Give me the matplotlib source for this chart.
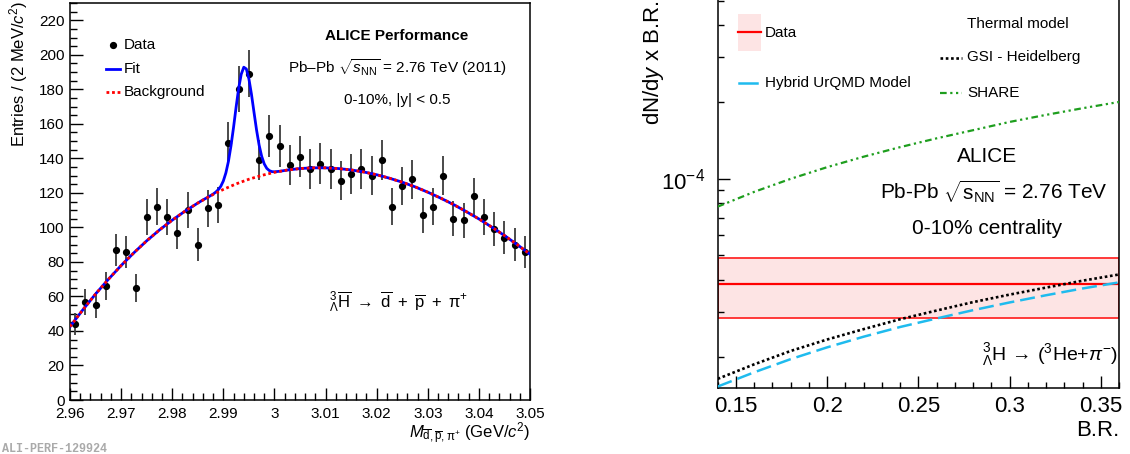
import numpy as np
import matplotlib
matplotlib.use('Agg')
import matplotlib.pyplot as plt
from matplotlib.patches import Rectangle
from matplotlib.lines import Line2D
from matplotlib.ticker import MultipleLocator, LogLocator, NullFormatter, LogFormatterMathtext, FuncFormatter

plt.rcParams['font.family'] = ['Liberation Sans', 'DejaVu Sans']
plt.rcParams['mathtext.fontset'] = 'custom'
plt.rcParams['mathtext.rm'] = 'Liberation Sans'
plt.rcParams['mathtext.it'] = 'Liberation Sans:italic'
plt.rcParams['mathtext.bf'] = 'Liberation Sans:bold'
plt.rcParams['axes.linewidth'] = 1.1

# ---------------- data: left panel (invariant mass) ----------------
mass = [2.961, 2.963, 2.965, 2.967, 2.969, 2.971, 2.973, 2.975, 2.977, 2.979,
        2.981, 2.983, 2.985, 2.987, 2.989, 2.991, 2.993, 2.995, 2.997, 2.999,
        3.001, 3.003, 3.005, 3.007, 3.009, 3.011, 3.013, 3.015, 3.017, 3.019,
        3.021, 3.023, 3.025, 3.027, 3.029, 3.031, 3.033, 3.035, 3.037, 3.039,
        3.041, 3.043, 3.045, 3.047, 3.049]
counts = [44, 57, 55, 66, 87, 86, 65, 106, 112, 106,
          97, 110, 90, 111, 113, 149, 180, 189, 139, 153,
          147, 136, 141, 134, 137, 134, 127, 131, 134, 130,
          139, 112, 124, 128, 107, 112, 130, 105, 104, 118,
          106, 99, 94, 90, 86]
count_err = [6.6, 7.5, 7.4, 8.1, 9.3, 9.3, 8.1, 10.3, 10.6, 10.3,
             9.8, 10.5, 9.5, 10.5, 10.6, 12.2, 13.4, 13.7, 11.8, 12.4,
             12.1, 11.7, 11.9, 11.6, 11.7, 11.6, 11.3, 11.4, 11.6, 11.4,
             11.8, 10.6, 11.1, 11.3, 10.3, 10.6, 11.4, 10.2, 10.2, 10.9,
             10.3, 9.9, 9.7, 9.5, 9.3]

bkg_x = [2.9600, 2.9625, 2.9650, 2.9675, 2.9700, 2.9725, 2.9750, 2.9775, 2.9800,
         2.9825, 2.9850, 2.9875, 2.9900, 2.9925, 2.9950, 2.9975, 3.0000, 3.0025,
         3.0050, 3.0075, 3.0100, 3.0125, 3.0150, 3.0175, 3.0200, 3.0225, 3.0250,
         3.0275, 3.0300, 3.0325, 3.0350, 3.0375, 3.0400, 3.0425, 3.0450, 3.0475,
         3.0500]
bkg_y = [42.5, 52.2, 61.4, 69.9, 77.9, 85.3, 92.2, 98.5, 104.2,
         109.4, 114.1, 118.3, 122.0, 125.2, 127.9, 130.1, 131.9, 133.2,
         134.1, 134.5, 134.5, 134.1, 133.3, 132.1, 130.5, 128.5, 126.2,
         123.5, 120.4, 117.0, 113.3, 109.2, 104.9, 100.2, 95.3, 90.0,
         84.5]

fit_x = [2.9600, 2.9625, 2.9650, 2.9675, 2.9700, 2.9725, 2.9750, 2.9775, 2.9800,
         2.9825, 2.9850, 2.9860, 2.9870, 2.9880, 2.9885, 2.9890, 2.9895, 2.9900,
         2.9905, 2.9910, 2.9915, 2.9920, 2.9925, 2.9930, 2.9935, 2.9940, 2.9945,
         2.9950, 2.9955, 2.9960, 2.9965, 2.9970, 2.9975, 2.9980, 2.9985, 2.9990,
         2.9995, 3.0000, 3.0010, 3.0025, 3.0050, 3.0075, 3.0100, 3.0125, 3.0150,
         3.0175, 3.0200, 3.0225, 3.0250, 3.0275, 3.0300, 3.0325, 3.0350, 3.0375,
         3.0400, 3.0425, 3.0450, 3.0475, 3.0500]
fit_y = [42.5, 52.2, 61.4, 69.9, 77.9, 85.3, 92.2, 98.5, 104.2,
         109.4, 114.1, 115.9, 117.5, 119.3, 120.4, 121.8, 123.8, 126.9,
         131.6, 138.3, 147.3, 158.0, 169.7, 180.6, 188.7, 192.8, 191.8,
         186.1, 177.2, 166.7, 156.4, 147.7, 141.2, 136.8, 134.2, 132.9,
         132.3, 132.2, 132.5, 133.2, 134.1, 134.5, 134.5, 134.1, 133.3,
         132.1, 130.5, 128.5, 126.2, 123.5, 120.4, 117.0, 113.3, 109.2,
         104.9, 100.2, 95.3, 90.0, 84.5]

# ---------------- data: right panel (yield x B.R.) ----------------
br = [0.14, 0.16, 0.18, 0.20, 0.22, 0.24, 0.26, 0.28, 0.30, 0.32, 0.34, 0.36]
gsi = [1.64e-5, 1.87e-5, 2.11e-5, 2.34e-5, 2.57e-5, 2.81e-5,
       3.04e-5, 3.28e-5, 3.51e-5, 3.74e-5, 3.98e-5, 4.21e-5]
urqmd = [1.53e-5, 1.74e-5, 1.96e-5, 2.18e-5, 2.40e-5, 2.62e-5,
         2.83e-5, 3.05e-5, 3.27e-5, 3.49e-5, 3.71e-5, 3.92e-5]
share = [7.77e-5, 8.88e-5, 9.99e-5, 11.1e-5, 12.2e-5, 13.3e-5,
         14.4e-5, 15.5e-5, 16.7e-5, 17.8e-5, 18.9e-5, 20.0e-5]
data_central = 3.86e-5
data_low = 2.83e-5
data_high = 4.89e-5

W, H = 1130, 454
fig = plt.figure(figsize=(W / 100, H / 100), dpi=100)


def P(x, y):
    return (x / W, 1 - y / H)


# ================= left panel =================
ax1 = fig.add_axes([70 / W, (H - 400) / H, 460 / W, 397 / H])
ax1.errorbar(mass, counts, yerr=count_err, fmt='o', color='black', ms=4.2,
             ecolor='#3c3c3c', elinewidth=1.3, capsize=0, zorder=2)
ax1.plot(fit_x, fit_y, color='#0000ff', lw=2.0, zorder=3)
ax1.plot(bkg_x, bkg_y, color='#ff0000', lw=2.0, ls=(0, (1, 1)), zorder=4)
ax1.set_xlim(2.96, 3.05)
ax1.set_ylim(0, 230)
ax1.xaxis.set_major_locator(MultipleLocator(0.01))
ax1.xaxis.set_minor_locator(MultipleLocator(0.002))
ax1.yaxis.set_major_locator(MultipleLocator(20))
ax1.yaxis.set_minor_locator(MultipleLocator(5))
ax1.xaxis.set_major_formatter(FuncFormatter(lambda v, p: '%g' % round(v, 3)))
ax1.tick_params(which='both', direction='in', top=False, right=False, labelsize=11)
ax1.tick_params(which='major', length=9, width=1.0)
ax1.tick_params(which='minor', length=5, width=1.0)
ax1.tick_params(axis='x', pad=5)
ax1.tick_params(axis='y', pad=4)

fig.text(*P(19, 1), r'Entries / (2 MeV/$c^{2}$)', rotation=90, ha='center', va='top', fontsize=12)
fig.text(*P(530, 434), r'$M_{\overline{\mathrm{d}},\overline{\mathrm{p}},\mathrm{π}^{+}}$ (GeV/$c^{2}$)',
         ha='right', va='center', fontsize=12)

# legend (left)
fig.add_artist(Line2D([113 / W], [P(0, 45)[1]], marker='o', ms=4.2, color='black', transform=fig.transFigure))
fig.text(*P(124, 45), 'Data', ha='left', va='center', fontsize=11)
fig.add_artist(Line2D([106 / W, 120 / W], [P(0, 69)[1]] * 2, color='#0000ff', lw=2.0, transform=fig.transFigure))
fig.text(*P(124, 69), 'Fit', ha='left', va='center', fontsize=11)
fig.add_artist(Line2D([106 / W, 120 / W], [P(0, 92)[1]] * 2, color='#ff0000', lw=2.0, ls=(0, (1, 1)),
                      transform=fig.transFigure))
fig.text(*P(124, 92), 'Background', ha='left', va='center', fontsize=11)

fig.text(*P(397, 36), 'ALICE Performance', ha='center', va='center', fontsize=11, fontweight='bold')
fig.text(*P(397, 68), r'Pb–Pb $\sqrt{s_{\mathrm{NN}}}$ = 2.76 TeV (2011)', ha='center', va='center', fontsize=11)
fig.text(*P(397, 100), '0-10%, |y| < 0.5', ha='center', va='center', fontsize=11)
fig.text(*P(329, 302),
         r'$^{3}_{\Lambda}\overline{\mathrm{H}}\ \rightarrow\ \overline{\mathrm{d}}\ +\ \overline{\mathrm{p}}\ +\ \mathrm{π}^{+}$',
         ha='left', va='center', fontsize=12)

fig.text(*P(2, 449), 'ALI-PERF-129924', ha='left', va='center', fontsize=8.5,
         family='Liberation Mono', fontweight='bold', color='#aaaaaa')

# ================= right panel =================
ax2 = fig.add_axes([717.7 / W, (H - 388) / H, 401.3 / W, 389 / H])
ax2.set_yscale('log')
ax2.axhspan(data_low, data_high, facecolor='#fde4e4', edgecolor='#ff2a2a', lw=1.3, zorder=1)
ax2.axhline(data_central, color='#ff0000', lw=1.6, zorder=2)
ax2.plot(br, gsi, color='black', lw=1.9, ls=(0, (1, 1)), zorder=3)
ax2.plot(br, urqmd, color='#1fbbee', lw=1.8, ls=(0, (6, 2.4)), zorder=3)
ax2.plot(br, share, color='#1e9e1e', lw=1.6, ls=(0, (3, 1.6, 1, 1.6, 1, 1.6)), zorder=3)
ax2.set_xlim(0.14, 0.36)
ax2.set_ylim(1.51e-5, 5.07e-4)
ax2.xaxis.set_major_locator(MultipleLocator(0.05))
ax2.xaxis.set_minor_locator(MultipleLocator(0.01))
ax2.xaxis.set_major_formatter(FuncFormatter(lambda v, p: '%g' % round(v, 3)))
ax2.yaxis.set_major_locator(LogLocator(base=10))
ax2.yaxis.set_minor_locator(LogLocator(base=10, subs=(2, 3, 4, 5, 6, 7, 8, 9)))
ax2.yaxis.set_major_formatter(LogFormatterMathtext())
ax2.yaxis.set_minor_formatter(NullFormatter())
ax2.tick_params(which='both', direction='in', top=False, right=False, labelsize=16)
ax2.tick_params(which='major', length=8.5, width=1.0)
ax2.tick_params(which='minor', length=4.5, width=1.0)
ax2.tick_params(axis='x', pad=6)
ax2.tick_params(axis='y', pad=9)

fig.text(*P(653, 0), r'dN/d$y$ x B.R.', rotation=90, ha='center', va='top', fontsize=16)
fig.text(*P(1119, 431), 'B.R.', ha='right', va='center', fontsize=16)

# legend (right)
x0, y0 = P(738, 51)
x1, y1 = P(761, 14)
fig.add_artist(Rectangle((x0, y0), x1 - x0, y1 - y0, facecolor='#fde4e4', edgecolor='none',
                         transform=fig.transFigure))
fig.add_artist(Line2D([x0, x1], [P(0, 32)[1]] * 2, color='#ff0000', lw=1.6, transform=fig.transFigure))
fig.text(*P(765, 33), 'Data', ha='left', va='center', fontsize=11)
fig.add_artist(Line2D([739 / W, 757 / W], [P(0, 83)[1]] * 2, color='#1fbbee', lw=1.8, transform=fig.transFigure))
fig.text(*P(765, 83), 'Hybrid UrQMD Model', ha='left', va='center', fontsize=11)
fig.text(*P(1018, 24), 'Thermal model', ha='center', va='center', fontsize=11)
fig.add_artist(Line2D([940 / W, 962 / W], [P(0, 58)[1]] * 2, color='black', lw=1.9, ls=(0, (1, 1)),
                      transform=fig.transFigure))
fig.text(*P(967, 57), 'GSI - Heidelberg', ha='left', va='center', fontsize=11)
fig.add_artist(Line2D([940 / W, 962 / W], [P(0, 93)[1]] * 2, color='#1e9e1e', lw=1.6,
                      ls=(0, (3, 1.6, 1, 1.6, 1, 1.6)), transform=fig.transFigure))
fig.text(*P(967, 93), 'SHARE', ha='left', va='center', fontsize=11)

fig.text(*P(987, 157), 'ALICE', ha='center', va='center', fontsize=15)
fig.text(*P(994, 192), r'Pb-Pb $\sqrt{\mathrm{s}_{\mathrm{NN}}}$ = 2.76 TeV', ha='center', va='center', fontsize=15)
fig.text(*P(987.5, 228), '0-10% centrality', ha='center', va='center', fontsize=15)
fig.text(*P(982, 355), r'$^{3}_{\Lambda}\mathrm{H}\,\rightarrow\,(^{3}\mathrm{He}$+$\pi^{-})$',
         ha='left', va='center', fontsize=14)

fig.savefig('out.png', dpi=100)
